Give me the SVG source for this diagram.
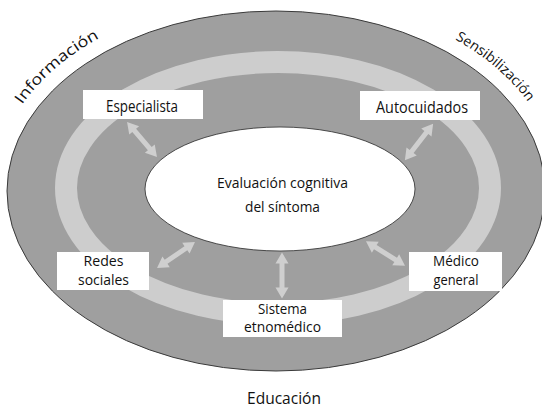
<svg xmlns="http://www.w3.org/2000/svg" xmlns:xlink="http://www.w3.org/1999/xlink" width="542" height="411" viewBox="0 0 542 411">
<style>
.lbl{font-family:"Open Sans","Liberation Sans",sans-serif;fill:#111111;}
.box{fill:#ffffff;stroke:none;}
.arr{fill:#cfcfcf;}
</style>
<defs>
<polygon id="darrow" class="arr" points="-23,0 -12,-6.5 -12,-2.5 12,-2.5 12,-6.5 23,0 12,6.5 12,2.5 -12,2.5 -12,6.5"/>
<path id="pInfo" d="M 22,104.6 A 283 196 0 0 1 276,-5"/>
<path id="pSens" d="M 455,39.2 A 283 196 0 0 1 559,191"/>
</defs>
<rect width="542" height="411" fill="#ffffff"/>
<g id="outer-ring">
<ellipse cx="276" cy="191" rx="269" ry="180" fill="#9f9f9f" stroke="#3a3a3a" stroke-width="1"/>
</g>
<g id="band">
<ellipse cx="278" cy="188" rx="212" ry="126" fill="none" stroke="#cdcdcd" stroke-width="22"/>
</g>
<g id="center">
<ellipse cx="280" cy="189" rx="135" ry="62" fill="#ffffff" stroke="#2a2a2a" stroke-width="0.8"/>
<text class="lbl" font-size="15" text-anchor="middle" x="282.5" y="188" textLength="131" lengthAdjust="spacingAndGlyphs">Evaluación cognitiva</text>
<text class="lbl" font-size="15" text-anchor="middle" x="282.5" y="212" textLength="75" lengthAdjust="spacingAndGlyphs">del síntoma</text>
</g>
<g id="connectors">
<use xlink:href="#darrow" href="#darrow" transform="translate(142,139.5) rotate(49.4)"/>
<use xlink:href="#darrow" href="#darrow" transform="translate(419,142) rotate(127.9)"/>
<use xlink:href="#darrow" href="#darrow" transform="translate(176,255) rotate(145.6)"/>
<use xlink:href="#darrow" href="#darrow" transform="translate(282,275.5) rotate(90)"/>
<use xlink:href="#darrow" href="#darrow" transform="translate(385.5,253.5) rotate(31.9)"/>
</g>
<g id="especialista">
<rect class="box" x="83" y="90" width="120" height="29"/>
<text class="lbl" font-size="15.5" text-anchor="middle" x="142" y="112" textLength="72" lengthAdjust="spacingAndGlyphs">Especialista</text>
</g>
<g id="autocuidados">
<rect class="box" x="360" y="91" width="120" height="29"/>
<text class="lbl" font-size="15.5" text-anchor="middle" x="422" y="113" textLength="92" lengthAdjust="spacingAndGlyphs">Autocuidados</text>
</g>
<g id="redes-sociales">
<rect class="box" x="57" y="252" width="92" height="38"/>
<text class="lbl" font-size="14.5" text-anchor="middle" x="103.5" y="266" textLength="40" lengthAdjust="spacingAndGlyphs">Redes</text>
<text class="lbl" font-size="14.5" text-anchor="middle" x="103.5" y="285" textLength="51" lengthAdjust="spacingAndGlyphs">sociales</text>
</g>
<g id="sistema-etnomedico">
<rect class="box" x="223" y="300" width="119" height="37"/>
<text class="lbl" font-size="14" text-anchor="middle" x="282.5" y="314" textLength="49" lengthAdjust="spacingAndGlyphs">Sistema</text>
<text class="lbl" font-size="14" text-anchor="middle" x="282.5" y="332" textLength="77" lengthAdjust="spacingAndGlyphs">etnomédico</text>
</g>
<g id="medico-general">
<rect class="box" x="409" y="252" width="93" height="39"/>
<text class="lbl" font-size="14.5" text-anchor="middle" x="456" y="266" textLength="46" lengthAdjust="spacingAndGlyphs">Médico</text>
<text class="lbl" font-size="14.5" text-anchor="middle" x="456" y="285" textLength="45" lengthAdjust="spacingAndGlyphs">general</text>
</g>
<g id="informacion">
<text class="lbl" font-size="15"><textPath xlink:href="#pInfo" href="#pInfo" textLength="103" lengthAdjust="spacingAndGlyphs">Información</textPath></text>
</g>
<g id="sensibilizacion">
<text class="lbl" font-size="14"><textPath xlink:href="#pSens" href="#pSens" textLength="97" lengthAdjust="spacingAndGlyphs">Sensibilización</textPath></text>
</g>
<g id="educacion">
<text class="lbl" font-size="17" text-anchor="middle" x="284" y="404" textLength="74" lengthAdjust="spacingAndGlyphs">Educación</text>
</g>
</svg>
